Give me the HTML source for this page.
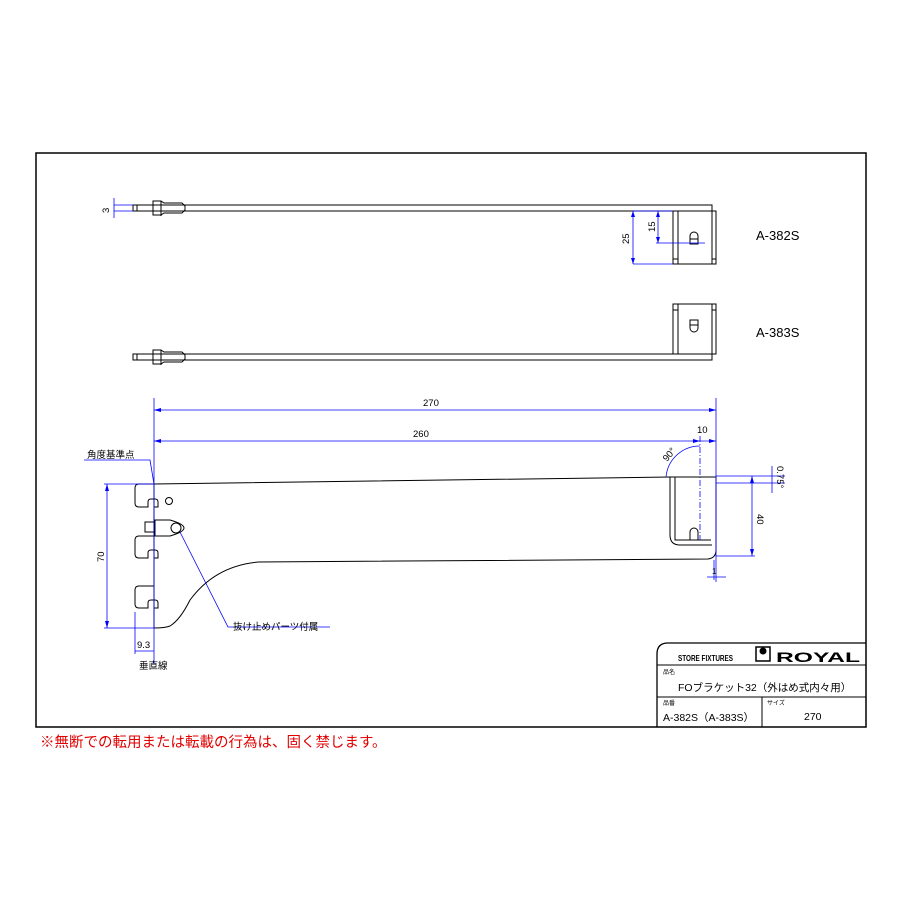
<!DOCTYPE html>
<html><head><meta charset="utf-8"><style>
body{margin:0;background:#fff}
svg{display:block}
text{font-family:"Liberation Sans","Noto Sans CJK JP",sans-serif}
</style></head><body>
<svg width="900" height="900" viewBox="0 0 900 900" xmlns="http://www.w3.org/2000/svg">
<rect x="36" y="153" width="830" height="574" fill="none" stroke="#000" stroke-width="1.5"/>
<!-- title block -->
<path d="M866 643 H668 Q657 643 657 654 V727" fill="none" stroke="#000" stroke-width="1.3"/>
<line x1="657" y1="665" x2="866" y2="665" stroke="#000"/>
<line x1="657" y1="697" x2="866" y2="697" stroke="#000"/>
<line x1="762" y1="697" x2="762" y2="727" stroke="#000"/>
<text x="678" y="661" font-size="8" font-weight="bold" textLength="55" lengthAdjust="spacingAndGlyphs">STORE FIXTURES</text>
<rect x="756" y="647" width="14" height="14" fill="none" stroke="#000" stroke-width="1.5"/>
<circle cx="763" cy="651" r="3.5" fill="#000"/>
<text x="776" y="662" font-size="14" font-weight="bold" textLength="84" lengthAdjust="spacingAndGlyphs">ROYAL</text>
<text x="663" y="674" font-size="6">品名</text>
<text x="678" y="691" font-size="10.5">FOブラケット32（外はめ式内々用）</text>
<text x="663" y="705" font-size="6">品番</text>
<text x="767" y="705" font-size="6">サイズ</text>
<text x="663" y="721" font-size="10.5">A-382S（A-383S）</text>
<text x="804" y="720" font-size="10.5">270</text>
<text x="40" y="747" font-size="14.5" fill="#e00000">※無断での転用または転載の行為は、固く禁じます。</text>

<g fill="none" stroke="#000" stroke-width="1">
<!-- A-382S -->
<rect x="133" y="205" width="579" height="6"/>
<line x1="137" y1="205" x2="137" y2="211"/>
<path d="M153 201 h8 l3 2 h18 l3 3 v4 l-3 3 h-18 l-3 2 h-8 z"/>
<line x1="161" y1="201" x2="161" y2="216"/>
<rect x="673" y="211" width="43" height="53"/>
<line x1="678" y1="211" x2="678" y2="264"/><line x1="712" y1="211" x2="712" y2="264"/>
<line x1="673" y1="259" x2="678" y2="259"/><line x1="712" y1="259" x2="716" y2="259"/>
<path d="M690 244 v-8 a4 4 0 0 1 8 0 v8 z"/><line x1="690" y1="239" x2="698" y2="239"/>
<!-- A-383S -->
<rect x="133" y="354" width="579" height="6"/>
<line x1="137" y1="354" x2="137" y2="360"/>
<path d="M153 350 h8 l3 2 h18 l3 3 v4 l-3 3 h-18 l-3 2 h-8 z"/>
<line x1="161" y1="350" x2="161" y2="365"/>
<rect x="673" y="304" width="43" height="50"/>
<line x1="678" y1="304" x2="678" y2="354"/><line x1="712" y1="304" x2="712" y2="354"/>
<line x1="673" y1="310" x2="678" y2="310"/><line x1="712" y1="310" x2="716" y2="310"/>
<path d="M690 320 v8 a4 4 0 0 0 8 0 v-8 z"/><line x1="690" y1="325" x2="698" y2="325"/>
<!-- main bracket -->
<path d="M154 484 L670 477 L716 477 V550 Q716 558 708 559 L258 562 Q215 566 190 600 Q180 620 170 626 Q165 628 154 628"/>
<path d="M154 484 H139 q-4 0 -4 4 v15 q0 4 4 4 h9 v-5 q0 -3 3 -3 h4 q3 0 3 3 v5 h-4"/>
<path d="M154 536 H139 q-4 0 -4 4 v14 q0 4 4 4 h9 v-5 q0 -3 3 -3 h4 q3 0 3 3 v5 h-4"/>
<path d="M154 586 H139 q-4 0 -4 4 v14 q0 4 4 4 h9 v-5 q0 -3 3 -3 h4 q3 0 3 3 v5 h-4"/>
<line x1="154" y1="484" x2="154" y2="628"/>
<circle cx="169" cy="501" r="3.5"/>
<path d="M145 522 h10 v10 h-10 z"/>
<path d="M155 520 h15 q14 4 14 8 q0 4 -14 8 h-15 z"/>
<circle cx="176" cy="528" r="5"/>
<path d="M670 477 V535 Q670 545 680 545 H712"/>
<path d="M675 477 V540 H711"/>
<path d="M690 540 v-8 a4 4 0 0 1 8 0 v8"/>
</g>

<g stroke="#0000ff" fill="none" stroke-width="0.8">
<line x1="114" y1="198" x2="114" y2="218"/><line x1="114" y1="205" x2="133" y2="205"/><line x1="114" y1="211" x2="133" y2="211"/>
<line x1="633" y1="211" x2="633" y2="264"/><line x1="633" y1="211" x2="673" y2="211"/><line x1="633" y1="264" x2="673" y2="264"/>
<line x1="658" y1="211" x2="658" y2="243"/><line x1="656" y1="243" x2="705" y2="243"/>
<line x1="154" y1="398" x2="154" y2="628"/>
<line x1="716" y1="398" x2="716" y2="582"/>
<line x1="154" y1="410" x2="716" y2="410"/>
<line x1="154" y1="441" x2="716" y2="441"/>
<line x1="700" y1="436" x2="700" y2="540" stroke-dasharray="6 2 1 2"/>
<path d="M666 477 A34 34 0 0 1 700 446"/>
<line x1="107" y1="484" x2="107" y2="628"/><line x1="104" y1="484" x2="154" y2="484"/><line x1="104" y1="628" x2="154" y2="628"/>
<line x1="135" y1="612" x2="135" y2="654"/><line x1="135" y1="651" x2="154" y2="651"/><line x1="154" y1="628" x2="154" y2="664"/>
<line x1="716" y1="476" x2="785" y2="476"/><line x1="716" y1="483" x2="785" y2="483"/><line x1="716" y1="556" x2="755" y2="556"/>
<line x1="752" y1="476" x2="752" y2="556"/>
<line x1="772" y1="466" x2="772" y2="493"/>
<line x1="707" y1="577" x2="726" y2="577"/><line x1="714" y1="560" x2="714" y2="580"/>
<polyline points="84,460 150,460 154,484"/>
<polyline points="180,532 228,627 330,627"/>
</g>
<g fill="#0000ff">
<path d="M154 410 l7 -2 v4 z"/><path d="M716 410 l-7 -2 v4 z"/>
<path d="M154 441 l7 -2 v4 z"/><path d="M700 441 l-7 -2 v4 z"/><path d="M716 441 l-7 -2 v4 z"/>
<path d="M107 484 l-2 7 h4 z"/><path d="M107 628 l-2 -7 h4 z"/>
<path d="M752 476 l-2 7 h4 z"/><path d="M752 556 l-2 -7 h4 z"/>
<path d="M633 211 l-2 6 h4 z"/><path d="M633 264 l-2 -6 h4 z"/>
<path d="M658 211 l-2 6 h4 z"/><path d="M658 243 l-2 -6 h4 z"/>
</g>
<g fill="#000" font-size="9.5">
<text x="756" y="240" font-size="13">A-382S</text>
<text x="756" y="337" font-size="13">A-383S</text>
<text x="423" y="406">270</text>
<text x="413" y="437">260</text>
<text x="697" y="433">10</text>
<text x="87" y="458">角度基準点</text>
<text x="233" y="630">抜け止めパーツ付属</text>
<text x="137" y="648">9.3</text>
<text x="139" y="669">垂直線</text>
<text x="712" y="574" font-size="8">1</text>
<text transform="translate(109,213) rotate(-90)">3</text>
<text transform="translate(629,244) rotate(-90)">25</text>
<text transform="translate(655,232) rotate(-90)">15</text>
<text transform="translate(104,562) rotate(-90)">70</text>
<text transform="translate(757,514) rotate(90)">40</text>
<text transform="translate(777,466) rotate(90)">0.75°</text>
<text transform="translate(667,462) rotate(-50)">90°</text>
</g>
</svg>
</body></html>
